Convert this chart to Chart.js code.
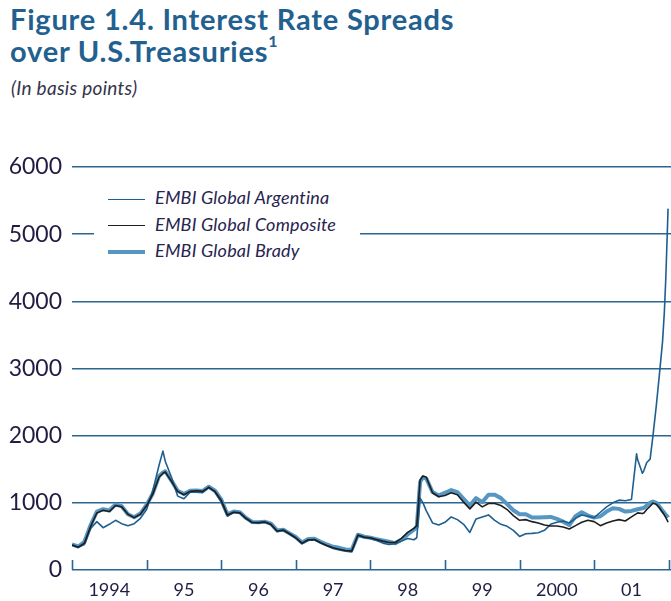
<!DOCTYPE html>
<html>
<head>
<meta charset="utf-8">
<title>Interest Rate Spreads over U.S. Treasuries</title>
<script src="https://cdn.jsdelivr.net/npm/chart.js@4.4.1/dist/chart.umd.min.js"></script>
<style>
    html, body { margin: 0; padding: 0; background: #fff; }
    #page { position: relative; width: 671px; height: 601px; overflow: hidden; font-family: Lato, 'Open Sans', sans-serif; }
    h1 { position: absolute; left: 10px; top: 3px; margin: 0; font-size: 29px; line-height: 32px; letter-spacing: 0.8px; font-weight: 700; color: #22608f; }
    h1 sup { font-size: 16px; line-height: 0; position: relative; top: -4px; }
    .units { position: absolute; left: 11px; top: 76px; font-size: 19px; letter-spacing: 0.3px; font-style: italic; color: #34344a; }
    #chartBox { position: absolute; left: 0; top: 140px; width: 671px; height: 461px; }
    #legend { position: absolute; left: 94px; top: 180px; width: 266px; height: 86px; background: #fff; }
    .item { position: absolute; left: 14px; height: 22px; line-height: 22px; white-space: nowrap; font-style: italic; font-size: 18px; letter-spacing: 0.2px; color: #27244f; }
    .swatch { display: inline-block; width: 37px; vertical-align: middle; margin-right: 10px; }
</style>
</head>
<body>
<div id="page">
    <h1>Figure 1.4. Interest Rate Spreads<br>over U.S.Treasuries<sup>1</sup></h1>
    <div class="units">(In basis points)</div>
    <div id="chartBox"><canvas id="spreadChart" width="671" height="461"></canvas></div>
    <div id="legend"></div>
</div>
<script>
// observation dates (monthly, with a few extra points around the spikes)
const dates = [
    '1994-01', '1994-02', '1994-03', '1994-04', '1994-05', '1994-06', '1994-07', '1994-08', '1994-09', '1994-10', '1994-11', '1994-12',
    '1995-01', '1995-02', '1995-03', '1995-03-20', '1995-04', '1995-05', '1995-06', '1995-07', '1995-08', '1995-09', '1995-10', '1995-11', '1995-12',
    '1996-01', '1996-02', '1996-03', '1996-04', '1996-05', '1996-06', '1996-07', '1996-08', '1996-09', '1996-10', '1996-11', '1996-12',
    '1997-01', '1997-02', '1997-03', '1997-04', '1997-05', '1997-06', '1997-07', '1997-08', '1997-09', '1997-10', '1997-11', '1997-12',
    '1998-01', '1998-02', '1998-03', '1998-04', '1998-05', '1998-06', '1998-07', '1998-08', '1998-08-15', '1998-09', '1998-09-15', '1998-10', '1998-11', '1998-12',
    '1999-01', '1999-02', '1999-03', '1999-04', '1999-05', '1999-06', '1999-07', '1999-08', '1999-09', '1999-10', '1999-11', '1999-12',
    '2000-01', '2000-02', '2000-03', '2000-04', '2000-05', '2000-06', '2000-07', '2000-08', '2000-09', '2000-10', '2000-11', '2000-12',
    '2001-01', '2001-02', '2001-03', '2001-04', '2001-05', '2001-06', '2001-07', '2001-07-26', '2001-08', '2001-08-24', '2001-09', '2001-09-15',
    '2001-10', '2001-10-15', '2001-11', '2001-11-15', '2001-12', '2001-12-10', '2001-12-17', '2001-12-24', '2001-12-28'
];

const argentina = [
    380, 340, 380, 620, 720, 630, 680, 740, 690, 660, 690, 770,
    900, 1180, 1560, 1770, 1620, 1380, 1100, 1060, 1160, 1160, 1150, 1230, 1160,
    1010, 800, 860, 850, 760, 700, 700, 720, 670, 570, 590, 530,
    470, 390, 440, 450, 400, 360, 320, 300, 280, 270, 510, 480,
    470, 440, 400, 380, 390, 430, 470, 450, 480, 1070, 1000, 880, 700, 670,
    710, 790, 750, 680, 560, 760, 790, 820, 740, 680, 650, 590,
    500, 540, 545, 555, 590, 680, 710, 730, 700, 770, 820, 800,
    780, 860, 940, 1000, 1040, 1030, 1050, 1730, 1640, 1440, 1480, 1600,
    1650, 2000, 2450, 2880, 3400, 3850, 4350, 5000, 5380
];

const composite = [
    370, 340, 400, 650, 850, 890, 870, 960, 940, 830, 780, 830,
    960, 1130, 1380, 1440, 1460, 1320, 1170, 1120, 1170, 1180, 1170, 1230, 1170,
    1040, 820, 860, 850, 770, 710, 705, 715, 680, 580, 595, 540,
    480, 400, 450, 455, 405, 365, 330, 310, 290, 285, 520, 490,
    480, 455, 430, 410, 410, 470, 560, 620, 660, 1340, 1400, 1380, 1150, 1090,
    1110, 1150, 1120, 1010, 910, 1010, 940, 990, 990, 960, 900, 810,
    740, 750, 720, 700, 670, 655, 655, 640, 610, 660, 710, 740,
    720, 660, 700, 730, 750, 730, 790, 840, 850, 840, 850, 900,
    950, 995, 980, 930, 860, 820, 780, 740, 710
];

const brady = [
    380, 350, 420, 670, 870, 905, 885, 975, 950, 830, 785, 840,
    970, 1140, 1400, 1450, 1470, 1330, 1180, 1130, 1180, 1185, 1175, 1240, 1180,
    1050, 830, 870, 860, 775, 715, 710, 720, 690, 590, 600, 545,
    490, 410, 460, 465, 420, 380, 345, 330, 305, 300, 525, 495,
    480, 460, 440, 420, 400, 450, 530, 600, 640, 1310, 1380, 1360, 1160, 1110,
    1150, 1190, 1160, 1060, 960, 1070, 1010, 1120, 1120, 1070, 980, 890,
    830, 830, 780, 780, 785, 790, 760, 720, 670, 800, 860, 810,
    780, 800, 870, 920, 910, 870, 880, 900, 905, 920, 925, 960,
    1000, 1020, 1000, 950, 880, 850, 820, 800, 780
];

const yearLabels = ['1994', '95', '96', '97', '98', '99', '2000', '01'];
const firstYear = 1994;

const inkBlue = '#2b6592';
const textColor = '#211d42';

function toYear(s) {
    const [y, m, d] = s.split('-').map(Number);
    return y + (m - 1) / 12 + ((d || 1) - 1) / 365;
}

function points(values) {
    return dates.map((d, i) => ({ x: toYear(d), y: values[i] }));
}

// short upward marks on the baseline at each year boundary
const yearMarks = {
    id: 'yearMarks',
    beforeDatasetsDraw(chart) {
        const xs = chart.scales.x;
        const ys = chart.scales.y;
        const base = ys.getPixelForValue(0);
        const ctx = chart.ctx;
        ctx.save();
        ctx.strokeStyle = inkBlue;
        ctx.lineWidth = 1.6;
        ctx.beginPath();
        for (let i = 0; i <= yearLabels.length; i++) {
            const x = Math.round(xs.getPixelForValue(firstYear + i)) + 0.5;
            ctx.moveTo(x, base);
            ctx.lineTo(x, base - 10);
        }
        ctx.stroke();
        ctx.restore();
    }
};

const ctx = document.getElementById('spreadChart').getContext('2d');
const chart = new Chart(ctx, {
    type: 'line',
    data: {
        datasets: [
            { label: 'EMBI Global Argentina', data: points(argentina), borderColor: '#1f5f8f', borderWidth: 1.6, order: 1 },
            { label: 'EMBI Global Composite', data: points(composite), borderColor: '#1e1e1e', borderWidth: 1.6, order: 0 },
            { label: 'EMBI Global Brady', data: points(brady), borderColor: '#5596c2', borderWidth: 4, order: 2 }
        ]
    },
    options: {
        responsive: false,
        animation: false,
        layout: { padding: { top: 27, right: 0, left: 0, bottom: 0 } },
        elements: {
            point: { radius: 0 },
            line: { tension: 0, borderJoinStyle: 'round' }
        },
        plugins: {
            legend: { display: false },
            tooltip: { enabled: false }
        },
        scales: {
            x: {
                type: 'linear',
                min: firstYear,
                max: 2002.03,
                grid: { display: false },
                border: { display: false },
                afterBuildTicks: (scale) => {
                    scale.ticks = yearLabels.map((_, i) => ({ value: firstYear + i + 0.5 }));
                },
                afterFit: (scale) => { scale.height = 31; },
                ticks: {
                    autoSkip: false,
                    maxRotation: 0,
                    padding: 1,
                    color: textColor,
                    font: { family: 'Lato', size: 18 },
                    callback: (value, index) => yearLabels[index]
                }
            },
            y: {
                min: 0,
                max: 6000,
                grid: { color: inkBlue, lineWidth: 1.6, drawTicks: false },
                border: { display: false },
                afterFit: (scale) => { scale.width = 72; },
                ticks: {
                    stepSize: 1000,
                    padding: 10,
                    color: textColor,
                    font: { family: 'Lato', size: 23 },
                    callback: (value) => String(value)
                }
            }
        }
    },
    plugins: [yearMarks]
});

// legend panel drawn over the plot, built from the datasets
const legendBox = document.getElementById('legend');
chart.data.datasets.forEach((ds, i) => {
    const row = document.createElement('div');
    row.className = 'item';
    row.style.top = (6 + i * 26.5) + 'px';
    row.innerHTML = `<span class="swatch" style="border-top:${ds.borderWidth}px solid ${ds.borderColor}"></span>${ds.label}`;
    legendBox.appendChild(row);
});
</script>
</body>
</html>
